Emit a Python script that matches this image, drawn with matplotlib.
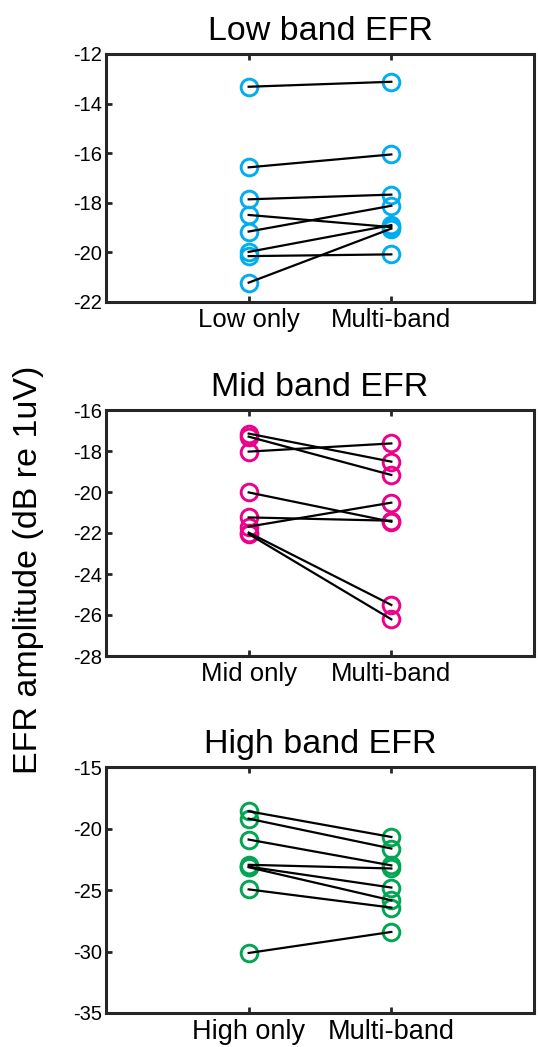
import matplotlib
matplotlib.use("Agg")
from matplotlib import pyplot as plt

plt.rcParams['font.family'] = ['Liberation Sans', 'DejaVu Sans']

# ---- data (dB re 1uV), one entry per subject: single band vs multi-band
low_single = [-13.32, -16.57, -17.86, -18.49, -19.16, -19.98, -20.15, -21.22]
low_multi = [-13.12, -16.05, -17.67, -18.98, -18.12, -18.90, -20.08, -19.04]

mid_single = [-17.15, -17.30, -18.03, -20.02, -21.24, -21.69, -21.98, -22.05]
mid_multi = [-18.52, -19.17, -17.63, -21.45, -21.40, -20.52, -25.51, -26.21]

high_single = [-18.60, -19.20, -20.90, -22.95, -23.10, -23.15, -24.95, -30.12]
high_multi = [-20.69, -21.63, -23.00, -23.25, -24.80, -25.84, -26.43, -28.41]

titles = ["Low band EFR", "Mid band EFR", "High band EFR"]
xlabels = [["Low only", "Multi-band"], ["Mid only", "Multi-band"], ["High only", "Multi-band"]]
ylims = [(-22, -12), (-28, -16), (-35, -15)]
yticks = [range(-22, -11, 2), range(-28, -15, 2), range(-35, -14, 5)]
colors = ["#00AEEF", "#EC008C", "#00A651"]

fig = plt.figure(figsize=(5.38, 10.47), dpi=100)
W, H = 538.0, 1047.0
boxes = [(54, 302), (410, 656), (767, 1013)]  # top/bottom in pixels
datasets = [(low_single, low_multi), (mid_single, mid_multi), (high_single, high_multi)]

for i in range(3):
    top, bot = boxes[i]
    ax = fig.add_axes([106 / W, 1 - bot / H, 428 / W, (bot - top) / H])
    single, multi = datasets[i]
    # circles first, black connecting lines on top
    for a, b in zip(single, multi):
        ax.plot([1, 2], [a, b], linestyle='none', marker='o', markersize=12,
                markerfacecolor='none', markeredgecolor=colors[i], markeredgewidth=2.1, zorder=2)
    for a, b in zip(single, multi):
        ax.plot([1, 2], [a, b], color='k', linewidth=1.6, zorder=3)
    ax.set_xlim(0, 3)
    ax.set_ylim(*ylims[i])
    ax.set_xticks([1, 2])
    ax.set_xticklabels(xlabels[i], fontsize=18.5 if i < 2 else 19.5)
    ax.set_yticks(list(yticks[i]))
    ax.set_yticklabels([str(v) for v in yticks[i]], fontsize=14.5)
    ax.tick_params(direction='in', length=4, width=2, color='#262626',
                   top=True, right=False, pad=3)
    ax.tick_params(axis='x', pad=4)
    for s in ax.spines.values():
        s.set_linewidth(2.2)
        s.set_color('#262626')
    ax.set_title(titles[i], fontsize=24.5, pad=10)

fig.text(29 / W, 1 - 570 / H, "EFR amplitude (dB re 1uV)", rotation=90,
         fontsize=24.5, ha='center', va='center')

fig.savefig("out.png", dpi=100)
